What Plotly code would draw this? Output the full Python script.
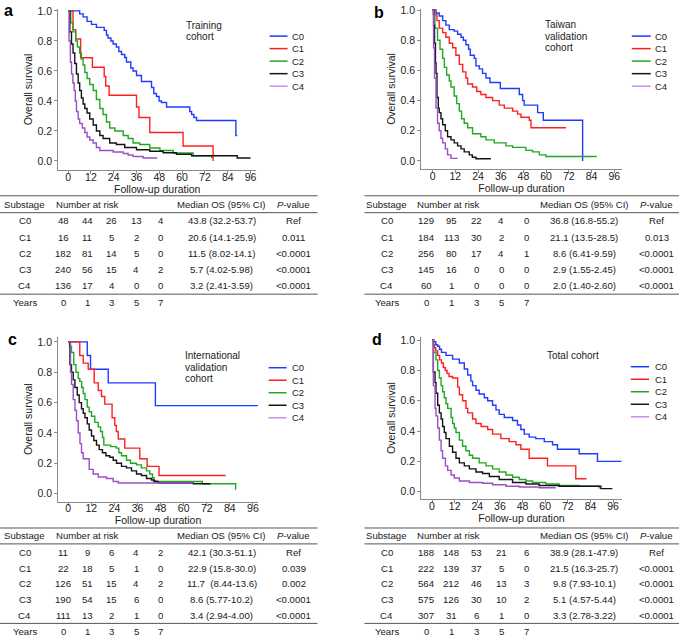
import plotly.graph_objects as go

FONT = "Liberation Sans, Arial, Helvetica, sans-serif"
W, H = 685, 638

SUBSTAGES = ["C0", "C1", "C2", "C3", "C4"]
LINE_COLORS = ["#1f3bff", "#ff1f1f", "#22a722", "#141414", "#9a4ec8"]
KEY_COLORS = ["#1f3bff", "#ff1f1f", "#22a722", "#141414", "#c98cf0"]
X_TICKS = [0, 12, 24, 36, 48, 60, 72, 84, 96]
Y_TICKS = [0.0, 0.2, 0.4, 0.6, 0.8, 1.0]
YEARS = [0, 1, 3, 5, 7]

# ---------------- Panel a: Training cohort ----------------
A_C0_T = [0, 6.1, 7.9, 10, 12.3, 14.9, 19, 20.2, 21, 22.5, 23.7, 25.4, 26.7, 28.1, 29.8, 30.7, 33, 34.2, 36, 38.6, 43.9, 45.1, 46.5, 47.9, 49.1, 51.8, 64, 65, 66.2, 67.6, 88.3, 89]
A_C0_S = [1, 0.98, 0.96, 0.93, 0.91, 0.89, 0.87, 0.84, 0.82, 0.80, 0.78, 0.76, 0.73, 0.71, 0.69, 0.66, 0.62, 0.60, 0.57, 0.53, 0.49, 0.45, 0.43, 0.40, 0.39, 0.36, 0.33, 0.31, 0.29, 0.27, 0.17, 0.17]
A_C1_T = [0, 2.6, 4, 6.6, 12.8, 19, 19.8, 21.6, 36, 37.3, 43, 60.5, 76.3]
A_C1_S = [1, 0.875, 0.8125, 0.6875, 0.625, 0.5625, 0.5, 0.4375, 0.36, 0.29, 0.19, 0.10, 0.0]
A_C2_T = [0, 1.4, 2.6, 4, 4.9, 6.1, 7, 7.9, 8.8, 10, 11.4, 13.2, 14.9, 16.7, 18.4, 20.2, 21.9, 24.6, 29, 31.6, 34.2, 37.7, 43, 48.3, 55.3, 65.8, 75.6]
A_C2_S = [1, 0.92, 0.86, 0.80, 0.76, 0.72, 0.68, 0.64, 0.59, 0.55, 0.51, 0.47, 0.41, 0.35, 0.31, 0.26, 0.22, 0.20, 0.17, 0.15, 0.12, 0.11, 0.086, 0.07, 0.053, 0.035, 0.018]
A_C3_T = [0, 0.9, 1.8, 2.6, 3.5, 4.4, 5.3, 6.1, 7, 7.9, 8.8, 10, 11.4, 13.2, 14.9, 16.7, 18.4, 21.9, 25.4, 29.8, 36, 43, 50, 57, 65, 89, 96]
A_C3_S = [1, 0.86, 0.78, 0.72, 0.65, 0.58, 0.52, 0.47, 0.42, 0.38, 0.35, 0.32, 0.28, 0.24, 0.20, 0.17, 0.15, 0.12, 0.11, 0.09, 0.075, 0.065, 0.055, 0.045, 0.035, 0.02, 0.02]
A_C4_T = [0, 0.5, 1.2, 1.8, 2.5, 3.2, 3.8, 4.4, 5.3, 6.1, 7.5, 8.8, 10, 11.4, 13.2, 14.9, 16.7, 23.7, 29, 31.6, 34.2, 39.5, 46.5]
A_C4_S = [1, 0.80, 0.66, 0.58, 0.52, 0.47, 0.40, 0.33, 0.28, 0.25, 0.22, 0.19, 0.16, 0.14, 0.12, 0.09, 0.07, 0.06, 0.05, 0.04, 0.03, 0.02, 0.015]
A_RISK = [[48, 44, 26, 13, 4], [16, 11, 5, 2, 0], [182, 81, 14, 5, 0], [240, 56, 15, 4, 2], [136, 17, 4, 0, 0]]
A_MEDIAN = ["43.8 (32.2-53.7)", "20.6 (14.1-25.9)", "11.5 (8.02-14.1)", "5.7 (4.02-5.98)", "3.2 (2.41-3.59)"]
A_P = ["Ref", "0.011", "<0.0001", "<0.0001", "<0.0001"]

# ---------------- Panel b: Taiwan validation cohort ----------------
B_C0_T = [0, 1.8, 3.5, 5.3, 7, 8.8, 11.4, 13.2, 15, 16.2, 17.6, 19, 19.9, 22, 22.9, 24.7, 26.4, 28.2, 30.3, 35.8, 45.8, 47.6, 48.4, 55.5, 58.5, 79.3]
B_C0_S = [1, 0.98, 0.96, 0.93, 0.90, 0.87, 0.86, 0.84, 0.82, 0.80, 0.77, 0.74, 0.70, 0.68, 0.63, 0.61, 0.58, 0.55, 0.52, 0.48, 0.44, 0.40, 0.37, 0.32, 0.27, 0.0]
B_C1_T = [0, 0.9, 2.3, 3.5, 5.3, 7, 8.8, 10.6, 12.3, 14.1, 15.9, 17.6, 18.5, 21.1, 23.3, 25.5, 28.2, 31.7, 35.2, 37.9, 42.3, 44.9, 46.7, 51.1, 52, 70.5]
B_C1_S = [1, 0.97, 0.93, 0.88, 0.85, 0.82, 0.78, 0.75, 0.70, 0.64, 0.59, 0.55, 0.51, 0.49, 0.46, 0.44, 0.42, 0.40, 0.37, 0.35, 0.33, 0.31, 0.29, 0.27, 0.22, 0.22]
B_C2_T = [0, 0.35, 1.2, 2.6, 3.9, 5.3, 6.2, 7.4, 8.8, 9.7, 11.4, 12.7, 14.1, 15.3, 16.7, 18.5, 21.1, 25.5, 28.2, 32.6, 38.8, 42.3, 49.3, 52.8, 56.4, 59.9, 86.7]
B_C2_S = [1, 0.97, 0.88, 0.80, 0.74, 0.68, 0.62, 0.57, 0.53, 0.49, 0.43, 0.38, 0.33, 0.28, 0.25, 0.22, 0.18, 0.16, 0.14, 0.12, 0.10, 0.09, 0.07, 0.06, 0.04, 0.03, 0.03]
B_C3_T = [0, 0.5, 1, 1.5, 1.8, 2.3, 3, 3.5, 4.4, 5.3, 6.7, 7.9, 9.7, 11.4, 13.2, 15, 16.7, 19.4, 21, 22.9, 30.8]
B_C3_S = [1, 0.9, 0.78, 0.65, 0.58, 0.42, 0.35, 0.32, 0.28, 0.24, 0.20, 0.16, 0.14, 0.12, 0.10, 0.08, 0.06, 0.04, 0.025, 0.015, 0.015]
B_C4_T = [0, 0.5, 1, 1.8, 2.6, 3.5, 4.4, 5.3, 6.7, 7.9, 9.7, 13.2]
B_C4_S = [1, 0.75, 0.55, 0.35, 0.25, 0.20, 0.15, 0.12, 0.08, 0.04, 0.017, 0.017]
B_RISK = [[129, 95, 22, 4, 0], [184, 113, 30, 2, 0], [256, 80, 17, 4, 1], [145, 16, 0, 0, 0], [60, 1, 0, 0, 0]]
B_MEDIAN = ["36.8 (16.8-55.2)", "21.1 (13.5-28.5)", "8.6 (6.41-9.59)", "2.9 (1.55-2.45)", "2.0 (1.40-2.60)"]
B_P = ["Ref", "0.013", "<0.0001", "<0.0001", "<0.0001"]

# ---------------- Panel c: International validation cohort ----------------
C_C0_T = [0, 9.9, 11.6, 20.8, 45.3, 98.6]
C_C0_S = [1, 0.91, 0.82, 0.73, 0.58, 0.58]
C_C1_T = [0, 6, 7.8, 10.4, 13.5, 15.6, 17.3, 19, 22.8, 24.2, 25, 26, 29.4, 37.2, 41, 47.2, 81.8]
C_C1_S = [1, 0.91, 0.86, 0.82, 0.73, 0.68, 0.64, 0.59, 0.50, 0.45, 0.41, 0.36, 0.30, 0.23, 0.18, 0.12, 0.12]
C_C2_T = [0, 0.7, 1.7, 2.9, 4, 5.2, 6, 7, 7.8, 8.7, 9.9, 10.9, 12.1, 13.8, 15.6, 16.8, 17.8, 18.5, 22.1, 25, 26.3, 27.7, 30.3, 32.4, 35.5, 38, 40.7, 42.4, 43.8, 44.6, 45.5, 69.7, 87, 87.3]
C_C2_S = [1, 0.97, 0.93, 0.85, 0.80, 0.76, 0.74, 0.70, 0.66, 0.62, 0.57, 0.54, 0.51, 0.47, 0.44, 0.41, 0.37, 0.32, 0.31, 0.30, 0.27, 0.25, 0.22, 0.20, 0.19, 0.17, 0.15, 0.13, 0.105, 0.087, 0.08, 0.065, 0.03, 0.03]
C_C3_T = [0, 0.9, 1.7, 2.6, 3.5, 4.7, 5.7, 6.9, 7.8, 8.7, 9.9, 10.9, 12.1, 13.3, 14.7, 16.1, 17.8, 19.6, 21.6, 23.4, 25.1, 27.7, 30.3, 32.9, 35.5, 38, 40.7, 43.3, 44.5, 46.7, 64.9, 73.9]
C_C3_S = [1, 0.85, 0.80, 0.75, 0.70, 0.65, 0.60, 0.56, 0.53, 0.50, 0.46, 0.42, 0.38, 0.35, 0.32, 0.29, 0.27, 0.25, 0.24, 0.22, 0.20, 0.18, 0.17, 0.15, 0.13, 0.12, 0.10, 0.09, 0.08, 0.07, 0.065, 0.065]
C_C4_T = [0, 1.2, 1.7, 2.6, 3.5, 4.3, 5.2, 6.1, 6.9, 7.8, 10.9, 13, 15.6, 19.9, 23.4, 26, 64.9]
C_C4_S = [1, 0.80, 0.72, 0.62, 0.55, 0.48, 0.40, 0.33, 0.27, 0.23, 0.16, 0.13, 0.11, 0.10, 0.08, 0.07, 0.07]
C_RISK = [[11, 9, 6, 4, 2], [22, 18, 5, 1, 0], [126, 51, 15, 4, 2], [190, 54, 15, 6, 0], [111, 13, 2, 1, 0]]
C_MEDIAN = ["42.1 (30.3-51.1)", "22.9 (15.8-30.0)", "11.7  (8.44-13.6)", "8.6 (5.77-10.2)", "3.4 (2.94-4.00)"]
C_P = ["Ref", "0.039", "0.002", "<0.0001", "<0.0001"]

# ---------------- Panel d: Total cohort ----------------
D_C0_T = [0, 1, 2, 3, 4, 5, 7.4, 10.9, 14.5, 17.1, 18.9, 20.6, 21.5, 23.3, 25, 27.7, 29.5, 32.1, 33.9, 35.6, 38.3, 42.7, 45.3, 47.1, 48.9, 51.5, 55, 59.5, 63.9, 66.5, 78, 87.7, 100.5]
D_C0_S = [1, 0.99, 0.97, 0.96, 0.94, 0.92, 0.90, 0.875, 0.85, 0.81, 0.77, 0.73, 0.70, 0.67, 0.645, 0.62, 0.60, 0.57, 0.54, 0.51, 0.49, 0.47, 0.44, 0.41, 0.38, 0.36, 0.35, 0.33, 0.31, 0.28, 0.25, 0.20, 0.20]
D_C1_T = [0, 0.7, 1.3, 2, 3, 4, 5, 6, 7, 8, 9, 10.9, 13.6, 14.5, 16.2, 18, 18.9, 21.5, 23.3, 26, 29.5, 32.1, 36.5, 40.9, 44.5, 47.1, 51.5, 61.2, 76.2, 81.9]
D_C1_S = [1, 0.97, 0.95, 0.93, 0.90, 0.87, 0.85, 0.82, 0.80, 0.78, 0.76, 0.75, 0.69, 0.64, 0.60, 0.55, 0.52, 0.48, 0.45, 0.43, 0.41, 0.38, 0.35, 0.33, 0.31, 0.28, 0.22, 0.17, 0.085, 0.085]
D_C2_T = [0, 0.9, 2.1, 3, 3.9, 4.8, 5.6, 6.5, 7.4, 8.3, 10.1, 10.9, 11.8, 12.7, 14.5, 16.2, 18, 19.8, 21.5, 25, 28.6, 32.1, 35.6, 39.2, 42.7, 46.2, 49.8, 53.3, 60.3, 67.4, 77.9, 88.6]
D_C2_S = [1, 0.92, 0.87, 0.80, 0.75, 0.70, 0.66, 0.62, 0.58, 0.55, 0.49, 0.45, 0.42, 0.39, 0.34, 0.30, 0.27, 0.24, 0.22, 0.19, 0.17, 0.15, 0.13, 0.11, 0.095, 0.08, 0.07, 0.06, 0.05, 0.04, 0.035, 0.02]
D_C3_T = [0, 0.7, 1.6, 2.1, 3, 3.9, 4.8, 5.6, 6.5, 7.4, 9.2, 10.9, 12.7, 14.5, 17.1, 19.8, 23.3, 26.8, 30.4, 35.6, 42.7, 49.8, 56.8, 67.4, 89.5, 95.6]
D_C3_S = [1, 0.79, 0.72, 0.65, 0.57, 0.52, 0.48, 0.43, 0.39, 0.35, 0.30, 0.26, 0.22, 0.19, 0.17, 0.15, 0.13, 0.12, 0.10, 0.08, 0.06, 0.05, 0.04, 0.035, 0.02, 0.02]
D_C4_T = [0, 0.7, 1.6, 2.1, 3, 3.9, 4.8, 5.6, 7.1, 8.3, 10.1, 11.8, 14.5, 19.8, 26.8, 32.1, 39.2, 46.2, 56.8, 65.6]
D_C4_S = [1, 0.70, 0.55, 0.50, 0.42, 0.34, 0.27, 0.22, 0.17, 0.14, 0.11, 0.09, 0.07, 0.06, 0.055, 0.045, 0.035, 0.03, 0.025, 0.025]
D_RISK = [[188, 148, 53, 21, 6], [222, 139, 37, 5, 0], [564, 212, 46, 13, 3], [575, 126, 30, 10, 2], [307, 31, 6, 1, 0]]
D_MEDIAN = ["38.9 (28.1-47.9)", "21.5 (16.3-25.7)", "9.8 (7.93-10.1)", "5.1 (4.57-5.44)", "3.3 (2.78-3.22)"]
D_P = ["Ref", "<0.0001", "<0.0001", "<0.0001", "<0.0001"]

# ---------------- layout helpers (pixel positions) ----------------
LEFT_COLS = dict(line=(0, 318), sub=25, risk=55, nums=[63.3, 87.6, 112, 136.5, 161], med=222, p=294)
RIGHT_COLS = dict(line=(365, 680), sub=387.5, risk=416.7, nums=[426.7, 452, 477, 502, 527], med=585, p=657.5)
TOP_ROWS = dict(top=193, head=202, mid=210, row0=218.3, step=16.25, bottom=292, years=300)
BOT_ROWS = dict(top=527.3, head=535.3, mid=543.3, row0=551.7, step=15.95, bottom=623.3, years=631)

PANELS = [
    dict(letter="a", letter_xy=(9, 7), box=(58.3, 256.6, 5, 167), xr=[-5.2, 99], yr=[-0.06, 1.013],
         cohort=["Training", "cohort"], cohort_xy=(185, 21.7), key=(270, 288, 291, 32.3),
         curves=[(A_C0_T, A_C0_S), (A_C1_T, A_C1_S), (A_C2_T, A_C2_S), (A_C3_T, A_C3_S), (A_C4_T, A_C4_S)],
         risk=A_RISK, med=A_MEDIAN, p=A_P, cols=LEFT_COLS, rows=TOP_ROWS),
    dict(letter="b", letter_xy=(380, 9), box=(421.7, 622.7, 5, 166), xr=[-6.1, 100], yr=[-0.053, 1.007],
         cohort=["Taiwan", "validation", "cohort"], cohort_xy=(545, 21), key=(632.7, 651.7, 655, 32.3),
         curves=[(B_C0_T, B_C0_S), (B_C1_T, B_C1_S), (B_C2_T, B_C2_S), (B_C3_T, B_C3_S), (B_C4_T, B_C4_S)],
         risk=B_RISK, med=B_MEDIAN, p=B_P, cols=RIGHT_COLS, rows=TOP_ROWS),
    dict(letter="c", letter_xy=(13, 338), box=(58.3, 258.3, 335, 500.7), xr=[-5.2, 98.6], yr=[-0.052, 1.033],
         cohort=["International", "validation", "cohort"], cohort_xy=(184, 354), key=(269, 287, 291.7, 366),
         curves=[(C_C0_T, C_C0_S), (C_C1_T, C_C1_S), (C_C2_T, C_C2_S), (C_C3_T, C_C3_S), (C_C4_T, C_C4_S)],
         risk=C_RISK, med=C_MEDIAN, p=C_P, cols=LEFT_COLS, rows=BOT_ROWS),
    dict(letter="d", letter_xy=(378, 338), box=(421.7, 622.7, 335, 498.3), xr=[-5.8, 100.6], yr=[-0.05, 1.022],
         cohort=["Total cohort"], cohort_xy=(546.7, 353.3), key=(631.7, 650, 655, 365),
         curves=[(D_C0_T, D_C0_S), (D_C1_T, D_C1_S), (D_C2_T, D_C2_S), (D_C3_T, D_C3_S), (D_C4_T, D_C4_S)],
         risk=D_RISK, med=D_MEDIAN, p=D_P, cols=RIGHT_COLS, rows=BOT_ROWS),
]
KEY_STEP = 12.6
COHORT_STEP = 11.5


def fx(x):
    return x / W


def fy(y):
    return 1 - y / H


fig = go.Figure()
annotations = []
shapes = []


def txt(text, x, y, size=9.6, xanchor="center", color="#1a1a1a"):
    annotations.append(dict(text=text, x=fx(x), y=fy(y), xref="paper", yref="paper",
                            xanchor=xanchor, yanchor="middle", showarrow=False,
                            font=dict(family=FONT, size=size, color=color),
                            borderpad=0))


def hline(x0, x1, y, color="#555555", width=1):
    shapes.append(dict(type="line", xref="paper", yref="paper", x0=fx(x0), x1=fx(x1),
                       y0=fy(y), y1=fy(y), line=dict(color=color, width=width)))


axis_common = dict(showline=True, linecolor="#8a8a8a", linewidth=1, ticks="outside",
                   ticklen=3, tickcolor="#8a8a8a", showgrid=False, zeroline=False,
                   tickfont=dict(family=FONT, size=10.5, color="#222222"))

for n, pnl in enumerate(PANELS, start=1):
    sfx = "" if n == 1 else str(n)
    xl, xr_px, yt, yb = pnl["box"]
    for (t, s), col, name in zip(pnl["curves"], LINE_COLORS, SUBSTAGES):
        fig.add_trace(go.Scatter(x=t, y=s, mode="lines", name=name,
                                 line=dict(shape="hv", color=col, width=1.4),
                                 xaxis="x" + sfx, yaxis="y" + sfx,
                                 showlegend=False, hoverinfo="skip"))
    fig.layout["xaxis" + sfx] = dict(
        axis_common, domain=[fx(xl), fx(xr_px)], range=pnl["xr"], anchor="y" + sfx,
        tickvals=X_TICKS, ticktext=[str(v) for v in X_TICKS], ticklabelstandoff=-6,
        title=dict(text="Follow-up duration", standoff=0,
                   font=dict(family=FONT, size=10.5, color="#222222")))
    fig.layout["yaxis" + sfx] = dict(
        axis_common, domain=[fy(yb), fy(yt)], range=pnl["yr"], anchor="x" + sfx,
        tickvals=Y_TICKS, ticktext=["%.1f" % v for v in Y_TICKS],
        title=dict(text="Overall survival", standoff=2,
                   font=dict(family=FONT, size=10.5, color="#222222")))

    # panel letter
    lx, ly = pnl["letter_xy"]
    txt("<b>%s</b>" % pnl["letter"], lx, ly, size=16, color="#000000")

    # cohort label
    cx, cy = pnl["cohort_xy"]
    for i, line in enumerate(pnl["cohort"]):
        txt(line, cx, cy + i * COHORT_STEP, size=10, xanchor="left", color="#222222")

    # key
    k0, k1, kt, ky = pnl["key"]
    for i, (name, col) in enumerate(zip(SUBSTAGES, KEY_COLORS)):
        yy = ky + i * KEY_STEP
        shapes.append(dict(type="line", xref="paper", yref="paper", x0=fx(k0), x1=fx(k1),
                           y0=fy(yy), y1=fy(yy), line=dict(color=col, width=1.5)))
        txt(name, kt, yy, size=9.5, xanchor="left", color="#222222")

    # table
    cols, rows = pnl["cols"], pnl["rows"]
    x0, x1 = cols["line"]
    for key in ("top", "mid", "bottom"):
        hline(x0, x1, rows[key])
    txt("Substage", cols["sub"], rows["head"])
    txt("Number at risk", cols["risk"], rows["head"], xanchor="left")
    txt("Median OS (95% CI)", cols["med"], rows["head"])
    txt("<i>P</i>-value", cols["p"], rows["head"])
    for i, name in enumerate(SUBSTAGES):
        yy = rows["row0"] + i * rows["step"]
        txt(name, cols["sub"], yy)
        for j, v in enumerate(pnl["risk"][i]):
            txt(str(v), cols["nums"][j], yy)
        txt(pnl["med"][i].replace("  ", "&nbsp; "), cols["med"], yy)
        txt(pnl["p"][i].replace("<", "&lt;"), cols["p"], yy)
    txt("Years", cols["sub"], rows["years"])
    for j, v in enumerate(YEARS):
        txt(str(v), cols["nums"][j], rows["years"])

fig.update_layout(
    width=W, height=H, autosize=False,
    margin=dict(l=0, r=0, t=0, b=0),
    paper_bgcolor="white", plot_bgcolor="white",
    showlegend=False,
    annotations=annotations, shapes=shapes,
    font=dict(family=FONT, size=10.5, color="#222222"),
)

fig.write_html("out.html", config={"displayModeBar": False},
               post_script="document.body.style.margin='0';document.body.style.overflow='hidden';")
